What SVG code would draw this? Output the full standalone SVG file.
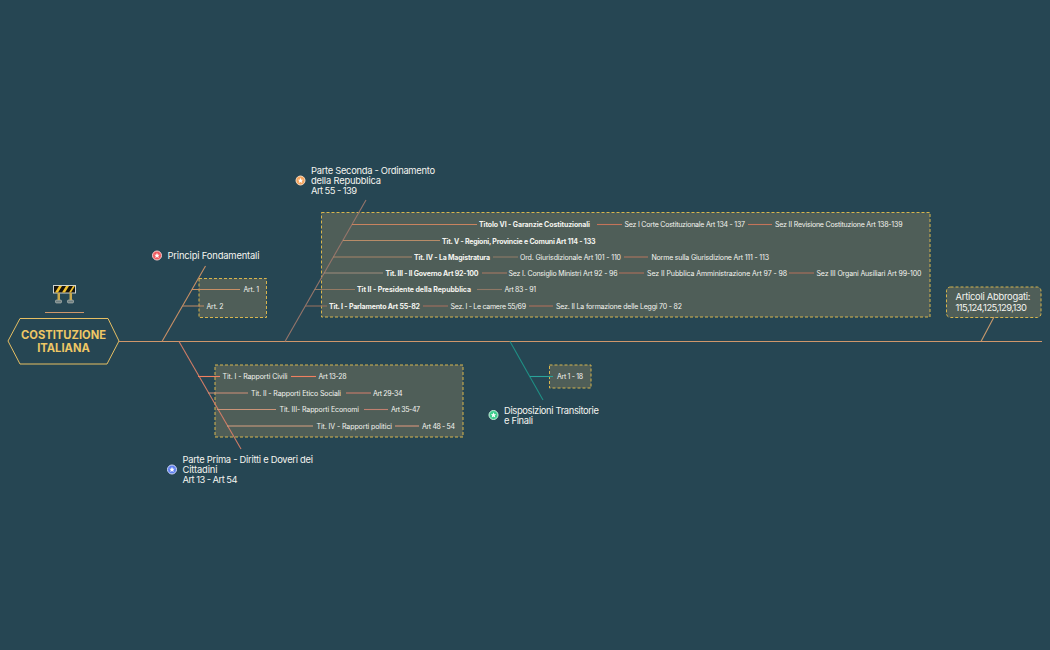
<svg xmlns="http://www.w3.org/2000/svg" width="1050" height="650" viewBox="0 0 1050 650">
<style>
text{font-family:"Inter","Open Sans","Liberation Sans",sans-serif;fill:#f4f4ef}
.t{font-size:7px;font-weight:400}
.b{font-size:7px;font-weight:700}
.l{font-size:9.4px;font-weight:400}
.c{font-size:11.2px;font-weight:700;fill:#eec765;text-anchor:middle}
.box{fill:#4f5e58;stroke:#d7b54e;stroke-width:1;stroke-dasharray:3 2}
.w line{fill:none;stroke-width:1.1}
</style>
<rect width="1050" height="650" fill="#264653"/>
<g id="central">
<polygon points="8,341 20,318.500 108,318.500 119,341 107,364 20,364" fill="#264653" stroke="#e6bf63" stroke-width="1"/>
<text class="c" x="63.500" y="339">COSTITUZIONE</text>
<text class="c" x="63.500" y="352">ITALIANA</text>
<line x1="45" y1="312.500" x2="84" y2="312.500" stroke="#d0976b" stroke-width="1"/>
<g id="icon">
<rect x="55.500" y="300" width="6" height="3" rx="1" fill="#6f7f80" stroke="#d8d8d0" stroke-width=".5"/>
<rect x="67.500" y="300" width="6" height="3" rx="1" fill="#6f7f80" stroke="#d8d8d0" stroke-width=".5"/>
<rect x="53.500" y="285.500" width="22" height="7.500" fill="#17130c" stroke="#cfd3cf" stroke-width="1"/>
<path d="M55 292.500l4-6.500h3l-4 6.500zM62 292.500l4-6.500h3l-4 6.500zM69 292.500l4-6.500h2l-4 6.500z" fill="#f2c22e"/>
<rect x="57.500" y="293" width="2.500" height="7" fill="#c9a94c"/>
<rect x="69.500" y="293" width="2.500" height="7" fill="#c9a94c"/>
</g>
</g>
<g id="principi">
<circle cx="157" cy="255.500" r="4.500" fill="#f25a5f" stroke="#f7d0d0" stroke-width="1"/>
<polygon points="157,252.800 157.800,254.800 159.700,254.800 158.200,256.100 158.800,258 157,256.900 155.200,258 155.800,256.100 154.300,254.800 156.200,254.800" fill="#fff"/>
<text class="l" x="167.500" y="259" textLength="92" lengthAdjust="spacing">Principi Fondamentali</text>
<rect class="box" x="199" y="278.500" width="67.500" height="39"/>
<text class="t" x="243.500" y="292" textLength="15.500" lengthAdjust="spacing">Art. 1</text>
<text class="t" x="206.500" y="308.500" textLength="17" lengthAdjust="spacing">Art. 2</text>
</g>
<g id="parte-seconda">
<circle cx="300.500" cy="180.500" r="4.500" fill="#f6a55e" stroke="#f8dcc0" stroke-width="1"/>
<polygon points="300.500,177.800 301.300,179.800 303.200,179.800 301.700,181.100 302.300,183 300.500,181.900 298.700,183 299.300,181.100 297.800,179.800 299.700,179.800" fill="#fff"/>
<text class="l" x="311" y="173.500" textLength="124" lengthAdjust="spacing">Parte Seconda - Ordinamento</text>
<text class="l" x="311" y="183.500" textLength="70" lengthAdjust="spacing">della Repubblica</text>
<text class="l" x="311" y="194" textLength="46" lengthAdjust="spacing">Art 55 - 139</text>
<rect class="box" x="321.500" y="212.500" width="608.500" height="104.500"/>
<text class="b" x="479" y="227" textLength="111" lengthAdjust="spacing">Titolo VI - Garanzie Costituzionali</text>
<text class="t" x="624.500" y="227" textLength="120.500" lengthAdjust="spacing">Sez I Corte Costituzionale Art 134 - 137</text>
<text class="t" x="775" y="227" textLength="127.500" lengthAdjust="spacing">Sez II Revisione Costituzione Art 138-139</text>
<text class="b" x="442" y="243.500" textLength="153.500" lengthAdjust="spacing">Tit. V - Regioni, Provincie e Comuni Art 114 - 133</text>
<text class="b" x="414" y="259.500" textLength="76" lengthAdjust="spacing">Tit. IV - La Magistratura</text>
<text class="t" x="520" y="259.500" textLength="101" lengthAdjust="spacing">Ord. Giurisdizionale Art 101 - 110</text>
<text class="t" x="651.500" y="259.500" textLength="117.500" lengthAdjust="spacing">Norme sulla Giurisdizione Art 111 - 113</text>
<text class="b" x="385.500" y="275.500" textLength="93" lengthAdjust="spacing">Tit. III - Il Governo Art 92-100</text>
<text class="t" x="508.500" y="275.500" textLength="109" lengthAdjust="spacing">Sez I. Consiglio Ministri Art 92 - 96</text>
<text class="t" x="647" y="275.500" textLength="140" lengthAdjust="spacing">Sez II Pubblica Amministrazione Art 97 - 98</text>
<text class="t" x="816.500" y="275.500" textLength="105" lengthAdjust="spacing">Sez III Organi Ausiliari Art 99-100</text>
<text class="b" x="357" y="292" textLength="114" lengthAdjust="spacing">Tit II - Presidente della Repubblica</text>
<text class="t" x="504.500" y="292" textLength="31.500" lengthAdjust="spacing">Art 83 - 91</text>
<text class="b" x="329" y="308.500" textLength="91" lengthAdjust="spacing">Tit. I - Parlamento Art 55-82</text>
<text class="t" x="450.500" y="308.500" textLength="75.500" lengthAdjust="spacing">Sez. I - Le camere 55/69</text>
<text class="t" x="556" y="308.500" textLength="126" lengthAdjust="spacing">Sez. II La formazione delle Leggi 70 - 82</text>
</g>
<g id="parte-prima">
<circle cx="172" cy="469.500" r="4.500" fill="#5f80f0" stroke="#cfd8f8" stroke-width="1"/>
<polygon points="172,466.800 172.800,468.800 174.700,468.800 173.200,470.100 173.800,472 172,470.900 170.200,472 170.800,470.100 169.300,468.800 171.200,468.800" fill="#fff"/>
<text class="l" x="182.500" y="462.500" textLength="130.500" lengthAdjust="spacing">Parte Prima - Diritti e Doveri dei</text>
<text class="l" x="182.500" y="472.500" textLength="35" lengthAdjust="spacing">Cittadini</text>
<text class="l" x="182.500" y="483" textLength="55" lengthAdjust="spacing">Art 13 - Art 54</text>
<rect class="box" x="215" y="365" width="248" height="72"/>
<text class="t" x="222.500" y="379" textLength="65" lengthAdjust="spacing">Tit. I - Rapporti Civili</text>
<text class="t" x="318.500" y="379" textLength="28" lengthAdjust="spacing">Art 13-28</text>
<text class="t" x="251" y="395.500" textLength="90" lengthAdjust="spacing">Tit. II - Rapporti Etico Sociali</text>
<text class="t" x="373" y="395.500" textLength="29.500" lengthAdjust="spacing">Art 29-34</text>
<text class="t" x="279.500" y="412" textLength="79.500" lengthAdjust="spacing">Tit. III- Rapporti Economi</text>
<text class="t" x="391" y="412" textLength="29" lengthAdjust="spacing">Art 35-47</text>
<text class="t" x="316.500" y="428.500" textLength="75.500" lengthAdjust="spacing">Tit. IV - Rapporti politici</text>
<text class="t" x="422" y="428.500" textLength="33" lengthAdjust="spacing">Art 48 - 54</text>
</g>
<g id="disposizioni">
<circle cx="493.500" cy="415" r="4.500" fill="#3ecf8e" stroke="#c8f0dc" stroke-width="1"/>
<polygon points="493.500,412.300 494.300,414.300 496.200,414.300 494.700,415.600 495.300,417.500 493.500,416.400 491.700,417.500 492.300,415.600 490.800,414.300 492.700,414.300" fill="#fff"/>
<text class="l" x="504" y="414" textLength="95" lengthAdjust="spacing">Disposizioni Transitorie</text>
<text class="l" x="504" y="424" textLength="29" lengthAdjust="spacing">e Finali</text>
<rect class="box" x="549.500" y="365" width="41.500" height="23"/>
<text class="t" x="557" y="379" textLength="26" lengthAdjust="spacing">Art 1 - 18</text>
</g>
<g id="articoli">
<rect class="box" x="946.500" y="287" width="94.500" height="30.500" rx="4"/>
<text class="l" x="955.500" y="300" textLength="75" lengthAdjust="spacing">Articoli Abbrogati:</text>
<text class="l" x="955.500" y="310.500" textLength="71.500" lengthAdjust="spacing">115,124,125,129,130</text>
</g>
<g id="connectors" class="w">
<line x1="119" y1="341.500" x2="1042" y2="341.500" stroke="#d0976b"/>
<line x1="162" y1="341.500" x2="205.500" y2="266" stroke="#c88f65"/>
<line x1="192" y1="289.500" x2="240" y2="289.500" stroke="#c88f65"/>
<line x1="182" y1="306" x2="204" y2="306" stroke="#b78764"/>
<line x1="285" y1="341.500" x2="366" y2="200" stroke="#96756a"/>
<line x1="352" y1="224.500" x2="477" y2="224.500" stroke="#c9835f"/>
<line x1="343" y1="240.500" x2="440" y2="240.500" stroke="#b88c68"/>
<line x1="333" y1="257" x2="412" y2="257" stroke="#a88468"/>
<line x1="324" y1="273" x2="383" y2="273" stroke="#a08c7c"/>
<line x1="314" y1="289.500" x2="355" y2="289.500" stroke="#957a64"/>
<line x1="305" y1="306" x2="327" y2="306" stroke="#93705f"/>
<line x1="597" y1="224.500" x2="622" y2="224.500" stroke="#c4745a"/>
<line x1="748" y1="224.500" x2="772" y2="224.500" stroke="#c4745a"/>
<line x1="493" y1="257" x2="518" y2="257" stroke="#8f7a68"/>
<line x1="624" y1="257" x2="648" y2="257" stroke="#b0755f"/>
<line x1="482" y1="273" x2="507" y2="273" stroke="#a67864"/>
<line x1="619" y1="273" x2="644" y2="273" stroke="#b0705c"/>
<line x1="789" y1="273" x2="814" y2="273" stroke="#b0705c"/>
<line x1="477" y1="289.500" x2="502" y2="289.500" stroke="#8f7866"/>
<line x1="423" y1="306" x2="448" y2="306" stroke="#a5705f"/>
<line x1="529" y1="306" x2="553" y2="306" stroke="#b0705c"/>
<line x1="179" y1="341.500" x2="241" y2="449" stroke="#d07c66"/>
<line x1="198" y1="376.500" x2="220" y2="376.500" stroke="#f08060"/>
<line x1="291" y1="376.500" x2="316" y2="376.500" stroke="#f08060"/>
<line x1="208" y1="393" x2="248" y2="393" stroke="#d29078"/>
<line x1="346" y1="393" x2="371" y2="393" stroke="#cc7d6c"/>
<line x1="217" y1="409.500" x2="276" y2="409.500" stroke="#cb9478"/>
<line x1="364" y1="409.500" x2="388" y2="409.500" stroke="#c08070"/>
<line x1="227" y1="426" x2="313" y2="426" stroke="#d8a080"/>
<line x1="395" y1="426" x2="419" y2="426" stroke="#d8957c"/>
<line x1="510" y1="341.500" x2="543" y2="400" stroke="#1f8f85"/>
<line x1="530" y1="376.500" x2="553" y2="376.500" stroke="#2aa39a"/>
<line x1="981" y1="341.500" x2="994" y2="317" stroke="#c99a6c"/>
</g>
</svg>
